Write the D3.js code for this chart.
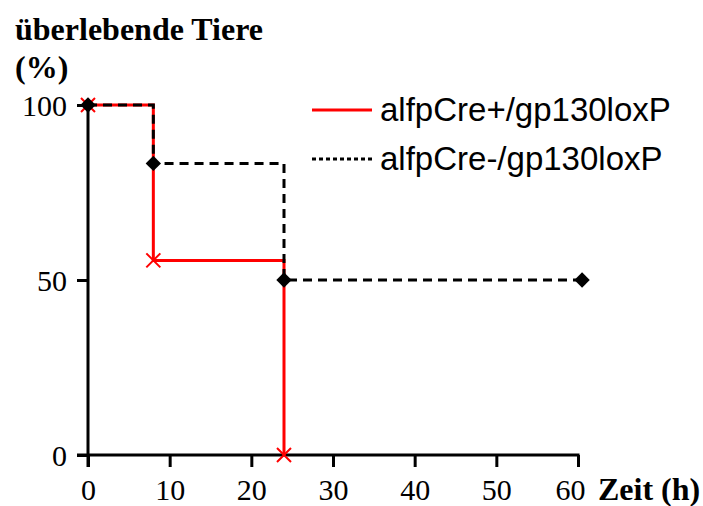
<!DOCTYPE html>
<html>
<head>
<meta charset="utf-8">
<script src="https://cdn.jsdelivr.net/npm/d3@7"></script>
<style>
  body { margin: 0; background: #fff; }
</style>
</head>
<body>
<div id="chart"></div>
<script>
// Datos: tiempo (h) y % de animales vivos
var timesCre = [0, 8, 24];
var survCre = [100, 55.6, 0];
var timesCtrl = [0, 8, 24, 60.5];
var survCtrl = [100, 83.3, 50, 50];
var xTicks = [0, 10, 20, 30, 40, 50, 60];
var yTicks = [0, 50, 100];
var seriesNames = ["alfpCre+/gp130loxP", "alfpCre-/gp130loxP"];

var width = 703;
var height = 506;
var serif = "Liberation Serif, Times New Roman, serif";

var svg = d3.select("#chart")
  .append("svg")
  .attr("width", width)
  .attr("height", height);

var xScale = d3.scaleLinear().domain([0, 60]).range([88, 578]);
var yScale = d3.scaleLinear().domain([0, 100]).range([455, 105]);

// eje X
var xAxis = d3.axisBottom(xScale).tickValues(xTicks).tickSize(12).tickSizeOuter(0).tickPadding(12);
var gx = svg.append("g")
  .attr("transform", "translate(0," + yScale(0) + ")")
  .call(xAxis);
gx.select(".domain").remove();
gx.selectAll(".tick line").attr("stroke", "#000").attr("stroke-width", 3);
gx.selectAll(".tick text")
  .attr("font-family", serif).attr("font-size", 30).attr("fill", "#000")
  // la ultima etiqueta queda un poco a la izquierda, como en el original
  .attr("x", function(d) { return d === 60 ? -8 : 0; });
gx.insert("line", ":first-child")
  .attr("x1", 77).attr("x2", xScale(60) + 1.5)
  .attr("stroke", "#000").attr("stroke-width", 3);

// eje Y
var yAxis = d3.axisLeft(yScale).tickValues(yTicks).tickSize(11).tickSizeOuter(0).tickPadding(10);
var gy = svg.append("g")
  .attr("transform", "translate(" + xScale(0) + ",0)")
  .call(yAxis);
gy.select(".domain").remove();
gy.selectAll(".tick line").attr("stroke", "#000").attr("stroke-width", 3);
gy.selectAll(".tick text")
  .attr("font-family", serif).attr("font-size", 30).attr("fill", "#000")
  .attr("dy", "0.34em");
gy.append("line")
  .attr("y1", yScale(100)).attr("y2", yScale(0) + 12)
  .attr("stroke", "#000").attr("stroke-width", 3);

// lineas escalonadas
function toPoints(times, surv) {
  return times.map(function(t, i) { return [t, surv[i]]; });
}
var stepLine = d3.line()
  .x(function(d) { return xScale(d[0]); })
  .y(function(d) { return yScale(d[1]); })
  .curve(d3.curveStepAfter);

var cre = toPoints(timesCre, survCre);
var ctrl = toPoints(timesCtrl, survCtrl);

svg.append("path")
  .datum(cre)
  .attr("d", stepLine)
  .attr("fill", "none")
  .attr("stroke", "#ff0000")
  .attr("stroke-width", 3);

svg.append("path")
  .datum(ctrl)
  .attr("d", stepLine)
  .attr("fill", "none")
  .attr("stroke", "#000")
  .attr("stroke-width", 3)
  .attr("stroke-dasharray", "9,6");

// marcadores: cruces rojas
var cs = 7;
svg.selectAll(".cross").data(cre).enter()
  .append("path")
  .attr("class", "cross")
  .attr("d", function(d) {
    var x = xScale(d[0]), y = yScale(d[1]);
    return "M" + (x - cs) + "," + (y - cs) + "L" + (x + cs) + "," + (y + cs) +
      "M" + (x - cs) + "," + (y + cs) + "L" + (x + cs) + "," + (y - cs);
  })
  .attr("stroke", "#ff0000")
  .attr("stroke-width", 2);

// marcadores: rombos negros
svg.selectAll(".diamond").data(ctrl).enter()
  .append("path")
  .attr("class", "diamond")
  .attr("transform", function(d) { return "translate(" + xScale(d[0]) + "," + yScale(d[1]) + ")"; })
  .attr("d", d3.symbol().type(d3.symbolDiamond2).size(150))
  .attr("fill", "#000");

// leyenda
var legend = svg.append("g");
legend.append("line")
  .attr("x1", 312).attr("x2", 372).attr("y1", 110).attr("y2", 110)
  .attr("stroke", "#ff0000").attr("stroke-width", 3);
legend.append("line")
  .attr("x1", 312).attr("x2", 372).attr("y1", 159).attr("y2", 159)
  .attr("stroke", "#000").attr("stroke-width", 3).attr("stroke-dasharray", "4,3");
legend.selectAll("text").data(seriesNames).enter()
  .append("text")
  .attr("x", 380)
  .attr("y", function(d, i) { return 121 + i * 49; })
  .attr("font-family", "Liberation Sans, Arial, sans-serif")
  .attr("font-size", 33)
  .text(function(d) { return d; });

// titulos de ejes
svg.append("text")
  .attr("x", 15).attr("y", 40)
  .attr("font-family", serif).attr("font-size", 32).attr("font-weight", "bold")
  .text("überlebende Tiere");
svg.append("text")
  .attr("x", 15).attr("y", 78)
  .attr("font-family", serif).attr("font-size", 32).attr("font-weight", "bold")
  .text("(%)");
svg.append("text")
  .attr("x", 598).attr("y", 500)
  .attr("font-family", serif).attr("font-size", 32).attr("font-weight", "bold")
  .text("Zeit (h)");
</script>
</body>
</html>
